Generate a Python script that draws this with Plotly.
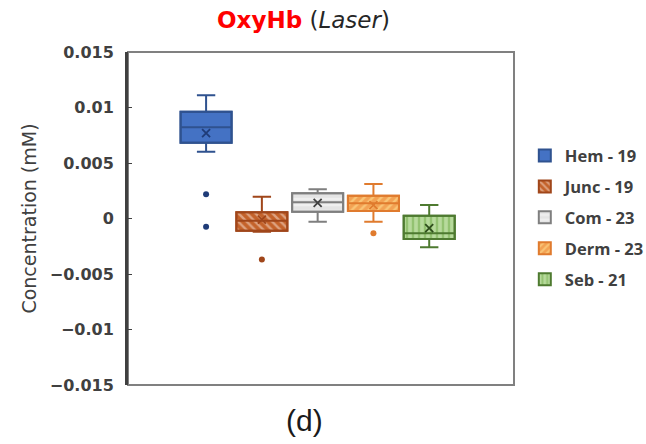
import plotly.graph_objects as go

# Group labels (legend text) and pre-computed box statistics (mM)
groups = ["Hem - 19", "Junc - 19", "Com - 23", "Derm - 23", "Seb - 21"]
upper_fence = [0.0111, 0.00196, 0.00263, 0.00311, 0.00122]
q3_vals = [0.00962, 0.00056, 0.00227, 0.00206, 0.00025]
medians = [0.00822, -0.0002, 0.00146, 0.00137, -0.00133]
q1_vals = [0.00683, -0.0011, 0.00061, 0.00068, -0.00185]
lower_fence = [0.00602, -0.0012, -0.00029, -0.00029, -0.0026]
means = [0.0077, -0.0001, 0.0014, 0.0012, -0.00086]
outliers = [[0.00218, -0.00074], [-0.0037], [], [-0.00133], []]

tick_vals = [0.015, 0.01, 0.005, 0, -0.005, -0.01, -0.015]
tick_text = ["0.015", "0.01", "0.005", "0", "\u22120.005", "\u22120.01", "\u22120.015"]

# Styling per group: edge colour, background fill, pattern colour, pattern shape
edge = ["#2F528F", "#A0461A", "#7F7F7F", "#E07B2E", "#4E7A30"]
fill_bg = ["#4472C4", "#C4622A", "#E4E4E4", "#F3A253", "#B7DA9C"]
fill_fg = ["#4472C4", "#F6E2D6", "#FAFAFA", "#FFE79A", "#6FAA45"]
shape = ["", "\\", "-", "/", "|"]
mark_col = ["#1F3C78", "#A0461A", "#404040", "#E07B2E", "#2E4D1C"]

BOX_W = 0.915
FONT = "DejaVu Sans, sans-serif"
LEGEND_FONT = "'Open Sans', sans-serif"

fig = go.Figure()

for i, g in enumerate(groups):
    # patterned box body (also provides the legend swatch)
    fig.add_trace(go.Bar(
        x=[g], y=[q3_vals[i] - q1_vals[i]], base=[q1_vals[i]], width=BOX_W,
        name=g, legendgroup=g,
        marker=dict(
            color=fill_bg[i],
            line=dict(color=edge[i], width=2),
            pattern=dict(shape=shape[i], bgcolor=fill_bg[i], fgcolor=fill_fg[i],
                         size=6, solidity=0.4, fillmode="overlay"),
        ),
        hoverinfo="skip",
    ))

for i, g in enumerate(groups):
    # outline, median and whiskers
    fig.add_trace(go.Box(
        x=[g], q1=[q1_vals[i]], median=[medians[i]], q3=[q3_vals[i]],
        lowerfence=[lower_fence[i]], upperfence=[upper_fence[i]],
        width=BOX_W, whiskerwidth=0.36, boxpoints=False,
        fillcolor="rgba(0,0,0,0)", line=dict(color=edge[i], width=2),
        showlegend=False, legendgroup=g,
    ))
    # mean marker
    fig.add_trace(go.Scatter(
        x=[g], y=[means[i]], mode="markers", showlegend=False,
        marker=dict(symbol="x-thin", size=8, line=dict(color=mark_col[i], width=1.8)),
    ))
    # outliers
    if outliers[i]:
        fig.add_trace(go.Scatter(
            x=[g] * len(outliers[i]), y=outliers[i], mode="markers", showlegend=False,
            marker=dict(symbol="circle", size=6, color=mark_col[i]),
        ))

fig.update_layout(
    width=646, height=444,
    margin=dict(l=128, r=132, t=52, b=59, autoexpand=False),
    paper_bgcolor="white", plot_bgcolor="white",
    barmode="overlay", boxmode="overlay",
    font=dict(family=FONT, color="#404040"),
    showlegend=True,
    legend=dict(
        x=1.028, y=0.741, xanchor="left", yanchor="top",
        font=dict(size=16.5, color="#404040", family=LEGEND_FONT, weight="bold"),
        itemwidth=30, tracegroupgap=6.5, bgcolor="rgba(0,0,0,0)",
    ),
    xaxis=dict(
        type="category", range=[-1.40, 5.52], showticklabels=False,
        showline=False, showgrid=False, zeroline=False, ticks="",
        categoryorder="array", categoryarray=groups,
    ),
    yaxis=dict(
        range=[-0.015, 0.015], tickvals=tick_vals, ticktext=tick_text,
        showgrid=False, zeroline=False,
        showline=True, linecolor="#404040", linewidth=3,
        ticks="inside", ticklen=4, tickcolor="#404040", tickwidth=1,
        ticklabelstandoff=8,
        tickfont=dict(size=16, color="#404040", family=FONT, weight="bold"),
        title=dict(text="Concentration (mM)", font=dict(size=19, color="#404040", family=FONT),
                   standoff=9),
    ),
    shapes=[dict(
        type="rect", xref="x domain", yref="y domain", x0=0, x1=1, y0=0, y1=1,
        line=dict(color="#808080", width=2), layer="below",
    )],
    annotations=[
        dict(
            text="<b><span style='color:#FF0000'>OxyHb</span></b> (<i>Laser</i>)",
            xref="paper", yref="paper", x=0.455, y=1.0, yshift=32,
            xanchor="center", yanchor="middle", showarrow=False,
            font=dict(size=23, color="#262626", family=FONT),
        ),
        dict(
            text="(d)", xref="paper", yref="paper", x=0.456, y=0, yshift=-35,
            xanchor="center", yanchor="middle", showarrow=False,
            font=dict(size=30, color="#1a1a1a", family="Liberation Sans, Arial, sans-serif"),
        ),
    ],
)

fig.write_html("out.html")
